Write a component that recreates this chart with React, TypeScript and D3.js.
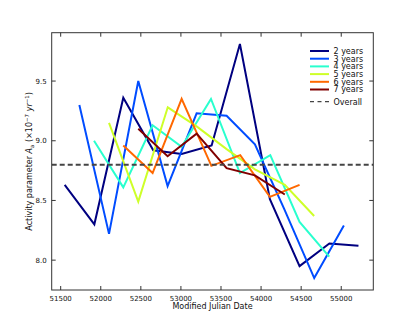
import React from "react";
import * as d3 from "d3";

const labels = ["2 years", "3 years", "4 years", "5 years", "6 years", "7 years"];
const colors = ["#000080", "#004cff", "#29ffce", "#ceff29", "#ff6800", "#800000"];

const mjd2 = [51550, 51920, 52281, 52655, 53009, 53383, 53736, 54110, 54480, 54852, 55215];
const val2 = [8.63, 8.30, 9.36, 8.92, 8.89, 8.96, 9.81, 8.51, 7.95, 8.14, 8.12];
const mjd3 = [51733, 52103, 52468, 52834, 53196, 53570, 53923, 54288, 54663, 55033];
const val3 = [9.30, 8.22, 9.50, 8.62, 9.23, 9.21, 8.97, 8.43, 7.85, 8.29];
const mjd4 = [51916, 52281, 52647, 53009, 53375, 53736, 54115, 54480, 54850];
const val4 = [9.00, 8.61, 9.13, 8.95, 9.35, 8.73, 8.88, 8.32, 8.03];
const mjd5 = [52103, 52468, 52836, 53196, 53570, 53923, 54296, 54662];
const val5 = [9.15, 8.49, 9.28, 9.12, 8.93, 8.76, 8.63, 8.37];
const mjd6 = [52281, 52647, 53009, 53380, 53740, 54110, 54480];
const val6 = [8.96, 8.73, 9.35, 8.79, 8.88, 8.53, 8.63];
const mjd7 = [52468, 52834, 53196, 53570, 53923, 54296];
const val7 = [9.10, 8.87, 9.06, 8.77, 8.71, 8.55];

const overall = 8.80;
const xTicks = [51500, 52000, 52500, 53000, 53500, 54000, 54500, 55000];
const yTicks = [8.0, 8.5, 9.0, 9.5];

const W = 415;
const H = 332;
const left = 51.7, right = 373.3, top = 32.7, bottom = 290;

export default function App() {
  const x = d3.scaleLinear().domain([51388, 55400]).range([left, right]);
  const y = d3.scaleLinear().domain([7.75, 9.905]).range([bottom, top]);

  const series = [
    [mjd2, val2], [mjd3, val3], [mjd4, val4],
    [mjd5, val5], [mjd6, val6], [mjd7, val7],
  ];

  const line = d3.line<[number, number]>()
    .x(d => x(d[0]))
    .y(d => y(d[1]));

  const font = "DejaVu Sans, sans-serif";
  const axisColor = "#333";
  const tl = 4;

  return (
    <div style={{ position: "absolute", left: 0, top: 0 }}>
      <svg width={W} height={H} style={{ display: "block", background: "#fff" }}>
        <defs>
          <clipPath id="plot">
            <rect x={left} y={top} width={right - left} height={bottom - top} />
          </clipPath>
        </defs>
        <g clipPath="url(#plot)">
          {series.map((s, i) => (
            <path
              key={i}
              d={line(d3.zip(s[0], s[1]) as [number, number][]) || ""}
              fill="none"
              stroke={colors[i]}
              strokeWidth={2}
              strokeLinejoin="miter"
            />
          ))}
          <line x1={left} x2={right} y1={y(overall)} y2={y(overall)}
            stroke="#444" strokeWidth={2} strokeDasharray="5,3" />
        </g>

        {/* frame */}
        <rect x={left} y={top} width={right - left} height={bottom - top}
          fill="none" stroke={axisColor} strokeWidth={1} />

        {xTicks.map(t => (
          <g key={t}>
            <line x1={x(t)} x2={x(t)} y1={bottom} y2={bottom - tl} stroke={axisColor} />
            <line x1={x(t)} x2={x(t)} y1={top} y2={top + tl} stroke={axisColor} />
            <text x={x(t)} y={bottom + 11} fontSize={7} fontFamily={font}
              textAnchor="middle" fill="#111">{t}</text>
          </g>
        ))}
        {yTicks.map(t => (
          <g key={t}>
            <line x1={left} x2={left + tl} y1={y(t)} y2={y(t)} stroke={axisColor} />
            <line x1={right} x2={right - tl} y1={y(t)} y2={y(t)} stroke={axisColor} />
            <text x={left - 5} y={y(t) + 2.5} fontSize={7} fontFamily={font}
              textAnchor="end" fill="#111">{t.toFixed(1)}</text>
          </g>
        ))}

        <text x={(left + right) / 2} y={309} fontSize={8} fontFamily={font}
          textAnchor="middle" fill="#111">Modified Julian Date</text>
        <text transform={`translate(31.5, ${(top + bottom) / 2}) rotate(-90)`}
          fontSize={8} fontFamily={font} textAnchor="middle" fill="#111">
          Activity parameter <tspan fontStyle="italic">A</tspan>
          <tspan fontSize={5.5} dy={2}>a</tspan>
          <tspan dy={-2}> (×10</tspan>
          <tspan fontSize={5.5} dy={-3}>−7</tspan>
          <tspan dy={3}> </tspan>
          <tspan fontStyle="italic">yr</tspan>
          <tspan fontSize={5.5} dy={-3}>−1</tspan>
          <tspan dy={3}>)</tspan>
        </text>

        {/* legend */}
        <g>
          {labels.map((l, i) => {
            const ly = 51 + i * 7.7;
            return (
              <g key={l}>
                <line x1={310} x2={329} y1={ly} y2={ly} stroke={colors[i]} strokeWidth={2} />
                <text x={333.5} y={ly + 2.8} fontSize={8} fontFamily={font} fill="#111">{l}</text>
              </g>
            );
          })}
          <line x1={310} x2={329} y1={101.7} y2={101.7} stroke="#444"
            strokeWidth={1.2} strokeDasharray="4,3.5" />
          <text x={333.5} y={104.5} fontSize={8} fontFamily={font} fill="#111">Overall</text>
        </g>
      </svg>
    </div>
  );
}
